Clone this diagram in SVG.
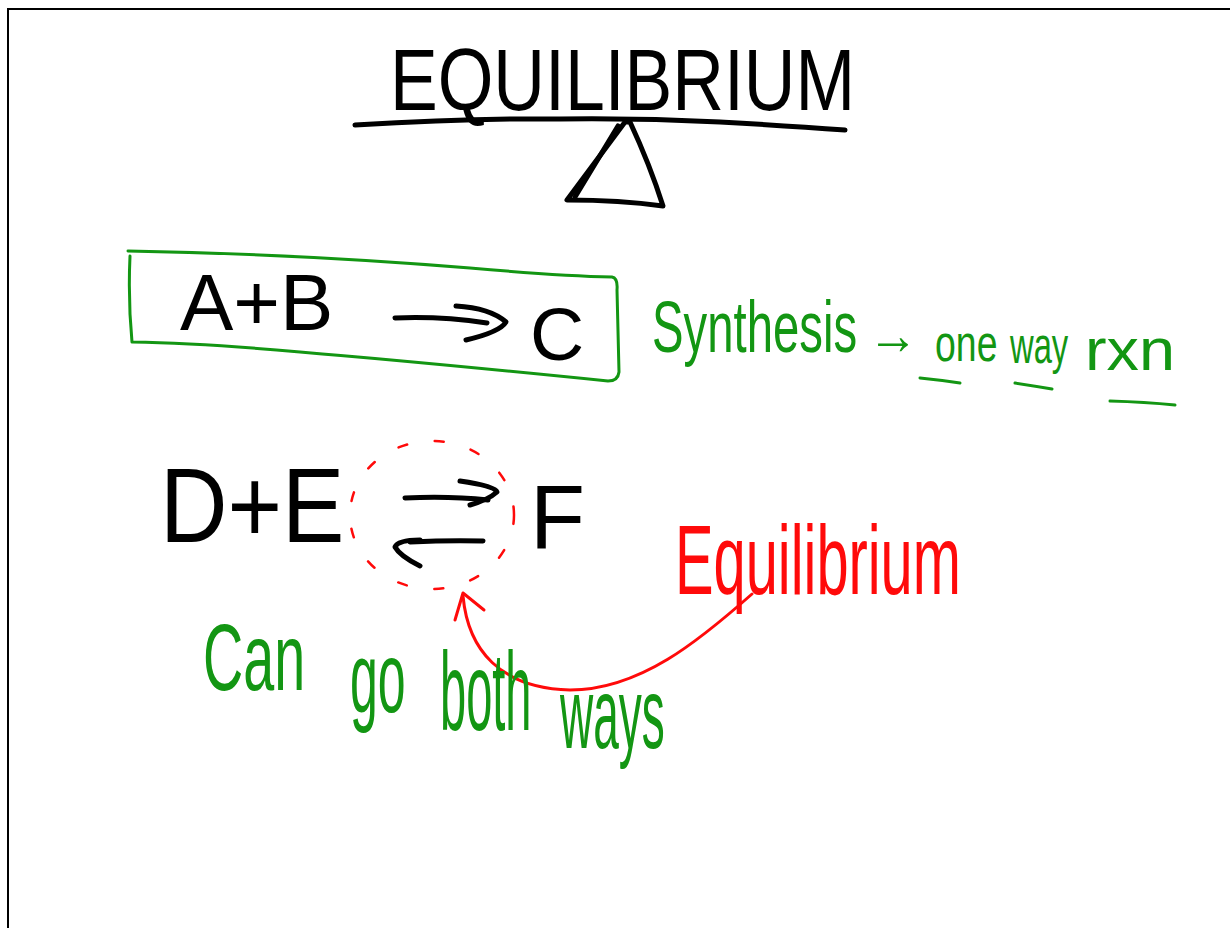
<svg xmlns="http://www.w3.org/2000/svg" width="1230" height="928" viewBox="0 0 1230 928">
<style>
.ink{fill:none;stroke-linecap:round;stroke-linejoin:round}
.k{stroke:#000;stroke-width:5}
.g{stroke:#139613;stroke-width:3}
.r{stroke:#ff0a0a;stroke-width:3}
.t{font-family:"Liberation Sans","DejaVu Sans",sans-serif}
.tk{fill:#000}
.tg{fill:#139613}
.tr{fill:#ff0a0a}
</style>
<rect width="1230" height="928" fill="#fff"/>
<path d="M8 928 V9 H1230" fill="none" stroke="#000" stroke-width="2"/>
<g id="title">
<text class="t tk" font-size="88" transform="translate(390 110) scale(0.813 1)">EQUILIBRIUM</text>
</g>
<g id="seesaw">
<path class="ink k" d="M355 125 Q470 118 560 119 Q640 118 720 122 Q790 126 845 130"/>
<path class="ink k" d="M625 122 L567 200 Q620 200 663 206 Q650 165 630 122 Z"/>
<path class="ink k" d="M618 126 L575 197"/>
</g>
<g id="synthesis-box">
<path class="ink g" d="M128 251 Q300 254 470 268 Q560 276 612 277 Q618 278 617 290 L619 372 Q618 381 608 381 Q420 362 300 352 Q200 343 132 342 Q128 300 130 256"/>
<text class="t tk" x="180" y="330" font-size="80">A+B</text>
<path class="ink k" d="M395 318 Q440 316 487 323"/>
<path class="ink k" d="M456 306 Q490 308 506 322 Q500 332 466 340"/>
<text class="t tk" x="530" y="360" font-size="75">C</text>
</g>
<g id="synthesis-note">
<text class="t tg" font-size="72" transform="translate(652 352) scale(0.657 1)">Synthesis</text>
<text class="t tg" font-size="56" transform="translate(868 354) scale(0.9 1)">→</text>
<text class="t tg" font-size="52" transform="translate(935 361) scale(0.72 1)">one</text>
<text class="t tg" font-size="52" transform="translate(1010 363) scale(0.63 1)">way</text>
<text class="t tg" font-size="60" transform="translate(1085 370) scale(1.08 1)">rxn</text>
<path class="ink g" d="M920 378 Q940 380 960 383"/>
<path class="ink g" d="M1015 383 Q1035 386 1052 389"/>
<path class="ink g" d="M1110 401 Q1145 402 1175 405"/>
</g>
<g id="equilibrium-reaction">
<text class="t tk" font-size="105" transform="translate(160 542) scale(0.89 1)">D+E</text>
<path class="ink k" d="M405 498 Q450 496 488 500"/>
<path class="ink k" d="M460 481 Q495 486 497 492 Q488 500 470 505"/>
<path class="ink k" d="M410 542 Q450 540 483 541"/>
<path class="ink k" d="M420 540 Q398 540 395 547 Q400 556 420 566"/>
<text class="t tk" x="530" y="548" font-size="90">F</text>
<ellipse cx="432" cy="515" rx="82" ry="74" fill="none" stroke="#ff0a0a" stroke-width="2.5" stroke-dasharray="9 28" stroke-linecap="round"/>
</g>
<g id="equilibrium-label">
<text class="t tr" font-size="98" transform="translate(675 594) scale(0.59 1)">Equilibrium</text>
</g>
<g id="connectors">
<path class="ink r" d="M752 594 C700 640 640 690 570 690 C500 688 468 650 463 596"/>
<path class="ink r" d="M455 620 L463 593 L484 610"/>
</g>
<g id="both-ways-note">
<text class="t tg" font-size="95" transform="translate(203 690) scale(0.586 1)">Can</text>
<text class="t tg" font-size="100" transform="translate(350 712) scale(0.5 1)">go</text>
<text class="t tg" font-size="112" transform="translate(440 730) scale(0.42 1)">both</text>
<text class="t tg" font-size="100" transform="translate(560 748) scale(0.46 1)">ways</text>
</g>
</svg>
